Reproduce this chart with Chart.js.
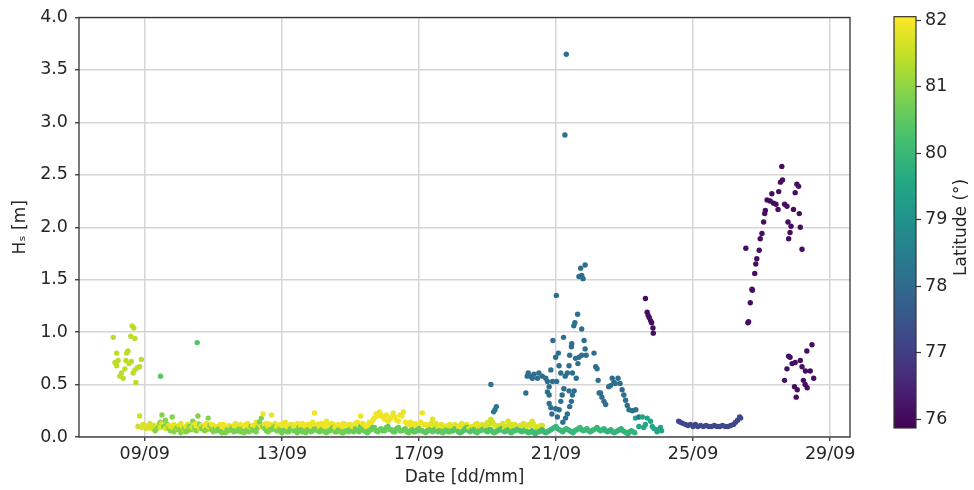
<!DOCTYPE html>
<html>
<head>
<meta charset="utf-8">
<title>Hs vs date, coloured by latitude</title>
<script src="https://cdn.jsdelivr.net/npm/chart.js@4/dist/chart.umd.min.js"></script>
<style>
  html, body { margin: 0; padding: 0; background: #ffffff; }
  #wrap { position: relative; width: 974px; height: 490px; }
  #wrap canvas { position: absolute; left: 0; top: 0; }
</style>
</head>
<body>
<div id="wrap">
  <canvas id="main" width="974" height="490"></canvas>
  <canvas id="cbar" width="974" height="490"></canvas>
</div>
<script>
// Each record: [day of September (fractional), Hs in metres, latitude in degrees N]

// 8 Sep burst of higher waves
const earlyBurst = [
  [8.08,0.95,81.4],[8.13,0.71,81.4],[8.18,0.80,81.4],[8.18,0.68,81.4],[8.22,0.73,81.4],
  [8.27,0.58,81.4],[8.32,0.61,81.4],[8.37,0.56,81.4],[8.42,0.65,81.4],[8.45,0.73,81.4],
  [8.47,0.80,81.4],[8.51,0.82,81.4],[8.54,0.70,81.4],[8.59,0.96,81.4],[8.61,0.72,81.4],
  [8.63,1.06,81.4],[8.66,0.61,81.4],[8.68,1.04,81.4],[8.71,0.94,81.4],[8.71,0.64,81.4],
  [8.74,0.52,81.4],[8.78,0.66,81.4],[8.85,0.67,81.4],[8.90,0.74,81.4]
];

// two isolated readings
const isolated = [
  [9.46,0.58,80.4],[10.53,0.90,80.4]
];

// northern track (calm, ~82 N)
const northTrack = [
  [8.80,0.10,81.6],[8.85,0.20,81.6],[8.90,0.09,81.7],[8.95,0.12,81.7],[9.00,0.11,81.7],
  [9.05,0.08,81.7],[9.10,0.10,81.7],[9.15,0.13,81.7],[9.20,0.08,81.7],[9.25,0.11,81.7],
  [9.30,0.07,81.8],[9.35,0.10,81.8],[9.40,0.12,81.8],[9.45,0.09,81.8],[9.50,0.13,81.8],
  [9.55,0.10,81.8],[9.60,0.08,81.8],[9.65,0.12,81.8],[9.70,0.11,81.8],[9.75,0.09,81.8],
  [9.80,0.09,81.8],[9.85,0.12,81.8],[9.90,0.10,81.8],[9.95,0.08,81.8],[10.00,0.11,81.8],
  [10.05,0.13,81.8],[10.10,0.09,81.8],[10.15,0.07,81.8],[10.20,0.10,81.8],[10.25,0.12,81.8],
  [10.30,0.11,81.9],[10.35,0.08,81.9],[10.40,0.09,81.9],[10.45,0.12,81.9],[10.50,0.10,81.9],
  [10.55,0.13,81.9],[10.60,0.08,81.9],[10.65,0.11,81.9],[10.70,0.10,81.9],[10.75,0.09,81.9],
  [10.80,0.13,81.9],[10.85,0.10,81.9],[10.90,0.09,81.9],[10.95,0.12,81.9],[11.00,0.11,81.9],
  [11.05,0.08,81.9],[11.10,0.10,81.9],[11.15,0.09,81.9],[11.20,0.12,81.9],[11.25,0.10,81.9],
  [11.30,0.12,81.9],[11.35,0.08,81.9],[11.40,0.09,81.9],[11.45,0.11,81.9],[11.50,0.07,81.9],
  [11.55,0.10,81.9],[11.60,0.11,81.9],[11.65,0.13,81.9],[11.70,0.09,81.9],[11.75,0.10,81.9],
  [11.80,0.12,81.9],[11.85,0.09,81.9],[11.90,0.10,81.9],[11.95,0.12,81.9],[12.00,0.13,81.9],
  [12.05,0.10,81.9],[12.10,0.09,81.9],[12.15,0.11,81.9],[12.20,0.11,81.9],[12.25,0.14,81.9],
  [12.30,0.14,81.9],[12.35,0.12,81.9],[12.40,0.10,81.9],[12.45,0.22,81.9],[12.50,0.12,81.9],
  [12.55,0.13,81.9],[12.60,0.10,81.9],[12.65,0.12,81.9],[12.70,0.21,81.9],[12.75,0.11,81.9],
  [12.80,0.13,81.9],[12.85,0.10,81.9],[12.90,0.09,81.9],[12.95,0.12,81.9],[13.00,0.11,81.9],
  [13.05,0.13,81.9],[13.10,0.14,81.9],[13.15,0.10,81.9],[13.20,0.10,81.9],[13.25,0.12,81.9],
  [13.30,0.12,81.9],[13.35,0.09,81.9],[13.40,0.09,81.9],[13.45,0.13,81.9],[13.50,0.11,81.9],
  [13.55,0.10,81.9],[13.60,0.13,81.9],[13.65,0.11,81.9],[13.70,0.10,81.9],[13.75,0.12,81.9],
  [13.80,0.12,81.9],[13.85,0.10,81.9],[13.90,0.14,81.9],[13.95,0.23,81.9],[14.00,0.11,81.9],
  [14.05,0.12,81.9],[14.10,0.09,81.9],[14.15,0.13,81.9],[14.20,0.12,81.9],[14.25,0.10,81.9],
  [14.30,0.15,81.9],[14.35,0.12,81.9],[14.40,0.10,81.9],[14.45,0.13,81.9],[14.50,0.12,81.9],
  [14.55,0.09,81.9],[14.60,0.08,81.9],[14.65,0.12,81.9],[14.70,0.11,81.9],[14.75,0.10,81.9],
  [14.80,0.13,81.9],[14.85,0.11,81.9],[14.90,0.10,81.9],[14.95,0.12,81.9],[15.00,0.12,81.9],
  [15.05,0.09,81.9],[15.10,0.09,81.9],[15.15,0.13,81.9],[15.20,0.14,81.9],[15.25,0.11,81.9],
  [15.30,0.20,81.9],[15.35,0.13,81.9],[15.40,0.12,81.9],[15.45,0.10,81.9],[15.50,0.10,81.9],
  [15.55,0.14,81.9],[15.60,0.13,81.9],[15.65,0.16,81.9],[15.70,0.18,81.9],[15.75,0.22,81.9],
  [15.80,0.20,81.9],[15.85,0.24,81.9],[15.90,0.21,81.9],[15.95,0.19,81.9],[16.00,0.17,81.9],
  [16.05,0.21,81.9],[16.10,0.15,81.9],[16.15,0.17,81.9],[16.20,0.19,81.9],[16.25,0.23,81.9],
  [16.30,0.19,81.9],[16.35,0.16,81.9],[16.40,0.15,81.9],[16.45,0.21,81.9],[16.50,0.20,81.9],
  [16.55,0.24,81.9],[16.60,0.14,81.9],[16.65,0.13,81.9],[16.70,0.12,81.9],[16.75,0.14,81.9],
  [16.80,0.10,81.9],[16.85,0.12,81.9],[16.90,0.13,81.9],[16.95,0.11,81.9],[17.00,0.11,81.9],
  [17.05,0.14,81.9],[17.10,0.23,81.9],[17.15,0.12,81.9],[17.20,0.12,81.9],[17.25,0.10,81.9],
  [17.30,0.10,81.8],[17.35,0.13,81.8],[17.40,0.17,81.8],[17.45,0.11,81.8],[17.50,0.13,81.8],
  [17.55,0.10,81.8],[17.60,0.09,81.8],[17.65,0.12,81.8],[17.70,0.11,81.8],[17.75,0.09,81.8],
  [17.80,0.08,81.8],[17.85,0.11,81.8],[17.90,0.12,81.8],[17.95,0.09,81.8],[18.00,0.10,81.8],
  [18.05,0.12,81.8],[18.10,0.08,81.8],[18.15,0.10,81.8],[18.20,0.11,81.8],[18.25,0.13,81.8],
  [18.30,0.09,81.8],[18.35,0.11,81.8],[18.40,0.12,81.8],[18.45,0.08,81.8],[18.50,0.08,81.8],
  [18.55,0.10,81.8],[18.60,0.10,81.8],[18.65,0.12,81.8],[18.70,0.13,81.8],[18.75,0.09,81.8],
  [18.80,0.09,81.7],[18.85,0.12,81.7],[18.90,0.11,81.7],[18.95,0.10,81.7],[19.00,0.14,81.7],
  [19.05,0.12,81.6],[19.10,0.17,81.6],[19.15,0.14,81.6],[19.20,0.12,81.7],[19.25,0.10,81.7],
  [19.30,0.09,81.7],[19.35,0.11,81.7],[19.40,0.11,81.7],[19.45,0.13,81.7],[19.50,0.08,81.7],
  [19.55,0.10,81.7],[19.60,0.15,81.7],[19.65,0.12,81.7],[19.70,0.10,81.7],[19.75,0.12,81.7],
  [19.80,0.12,81.7],[19.85,0.09,81.7],[19.90,0.08,81.7],[19.95,0.11,81.7],[20.00,0.11,81.7],
  [20.05,0.13,81.7],[20.10,0.09,81.7],[20.15,0.10,81.7],[20.20,0.12,81.7],[20.25,0.11,81.7],
  [20.30,0.15,81.7],[20.35,0.12,81.7],[20.40,0.10,81.7],[20.45,0.09,81.7],[20.50,0.08,81.7],
  [20.55,0.11,81.7],[20.60,0.11,81.7]
];

// southern track (calm, ~80 N)
const southTrack = [
  [9.30,0.06,80.9],[9.35,0.08,80.9],[9.40,0.09,80.9],[9.45,0.14,80.9],[9.50,0.21,80.9],
  [9.55,0.10,80.9],[9.60,0.16,80.9],[9.65,0.12,80.9],[9.70,0.08,80.9],[9.75,0.06,80.9],
  [9.80,0.19,80.9],[9.85,0.05,80.9],[9.90,0.07,80.9],[9.95,0.09,80.9],[10.00,0.07,80.9],
  [10.05,0.04,80.9],[10.10,0.06,80.9],[10.15,0.08,80.9],[10.20,0.05,80.9],[10.25,0.06,80.9],
  [10.30,0.10,80.9],[10.35,0.07,80.9],[10.40,0.15,80.9],[10.45,0.09,80.9],[10.50,0.06,80.9],
  [10.55,0.20,80.9],[10.60,0.12,80.9],[10.65,0.08,80.9],[10.70,0.09,80.9],[10.75,0.06,80.9],
  [10.80,0.07,80.9],[10.85,0.18,80.9],[10.90,0.11,80.9],[10.95,0.07,80.9],[11.00,0.05,80.9],
  [11.05,0.08,80.8],[11.10,0.06,80.8],[11.15,0.08,80.8],[11.20,0.06,80.8],[11.25,0.04,80.8],
  [11.30,0.05,80.8],[11.35,0.04,80.8],[11.40,0.07,80.8],[11.45,0.06,80.8],[11.50,0.07,80.8],
  [11.55,0.09,80.8],[11.60,0.05,80.8],[11.65,0.06,80.8],[11.70,0.06,80.8],[11.75,0.08,80.8],
  [11.80,0.05,80.8],[11.85,0.08,80.8],[11.90,0.04,80.8],[11.95,0.06,80.8],[12.00,0.07,80.8],
  [12.05,0.05,80.8],[12.10,0.10,80.8],[12.15,0.07,80.8],[12.20,0.06,80.8],[12.25,0.05,80.8],
  [12.30,0.09,80.8],[12.35,0.14,80.8],[12.40,0.18,80.8],[12.45,0.10,80.8],[12.50,0.08,80.8],
  [12.55,0.06,80.8],[12.60,0.05,80.8],[12.65,0.07,80.8],[12.70,0.07,80.8],[12.75,0.09,80.8],
  [12.80,0.10,80.8],[12.85,0.06,80.8],[12.90,0.06,80.8],[12.95,0.08,80.8],[13.00,0.04,80.7],
  [13.05,0.06,80.7],[13.10,0.07,80.7],[13.15,0.05,80.7],[13.20,0.05,80.7],[13.25,0.08,80.7],
  [13.30,0.08,80.7],[13.35,0.06,80.7],[13.40,0.06,80.7],[13.45,0.04,80.7],[13.50,0.09,80.7],
  [13.55,0.07,80.7],[13.60,0.05,80.7],[13.65,0.06,80.7],[13.70,0.04,80.7],[13.75,0.07,80.7],
  [13.80,0.07,80.7],[13.85,0.05,80.7],[13.90,0.06,80.7],[13.95,0.08,80.7],[14.00,0.08,80.7],
  [14.05,0.06,80.7],[14.10,0.05,80.7],[14.15,0.07,80.7],[14.20,0.07,80.7],[14.25,0.05,80.7],
  [14.30,0.04,80.7],[14.35,0.06,80.7],[14.40,0.06,80.7],[14.45,0.08,80.7],[14.50,0.09,80.7],
  [14.55,0.05,80.7],[14.60,0.05,80.7],[14.65,0.07,80.7],[14.70,0.07,80.7],[14.75,0.04,80.7],
  [14.80,0.04,80.7],[14.85,0.06,80.7],[14.90,0.06,80.7],[14.95,0.05,80.7],[15.00,0.08,80.6],
  [15.05,0.06,80.6],[15.10,0.05,80.6],[15.15,0.08,80.6],[15.20,0.07,80.6],[15.25,0.05,80.6],
  [15.30,0.10,80.6],[15.35,0.07,80.6],[15.40,0.06,80.6],[15.45,0.05,80.6],[15.50,0.04,80.6],
  [15.55,0.06,80.6],[15.60,0.07,80.6],[15.65,0.09,80.6],[15.70,0.09,80.6],[15.75,0.06,80.6],
  [15.80,0.05,80.6],[15.85,0.07,80.6],[15.90,0.08,80.6],[15.95,0.06,80.6],[16.00,0.06,80.6],
  [16.05,0.09,80.6],[16.10,0.10,80.6],[16.15,0.07,80.6],[16.20,0.07,80.6],[16.25,0.05,80.6],
  [16.30,0.05,80.6],[16.35,0.08,80.6],[16.40,0.09,80.6],[16.45,0.06,80.6],[16.50,0.06,80.6],
  [16.55,0.07,80.6],[16.60,0.08,80.6],[16.65,0.05,80.6],[16.70,0.04,80.6],[16.75,0.06,80.6],
  [16.80,0.07,80.5],[16.85,0.05,80.5],[16.90,0.05,80.5],[16.95,0.07,80.5],[17.00,0.08,80.5],
  [17.05,0.06,80.5],[17.10,0.06,80.5],[17.15,0.05,80.5],[17.20,0.04,80.5],[17.25,0.06,80.5],
  [17.30,0.07,80.5],[17.35,0.06,80.5],[17.40,0.05,80.5],[17.45,0.07,80.5],[17.50,0.08,80.5],
  [17.55,0.05,80.5],[17.60,0.06,80.5],[17.65,0.05,80.5],[17.70,0.04,80.5],[17.75,0.06,80.5],
  [17.80,0.07,80.5],[17.85,0.05,80.5],[17.90,0.05,80.5],[17.95,0.06,80.5],[18.00,0.06,80.4],
  [18.05,0.08,80.4],[18.10,0.08,80.4],[18.15,0.05,80.4],[18.20,0.04,80.4],[18.25,0.05,80.4],
  [18.30,0.06,80.4],[18.35,0.08,80.4],[18.40,0.09,80.4],[18.45,0.06,80.4],[18.50,0.05,80.4],
  [18.55,0.07,80.4],[18.60,0.07,80.4],[18.65,0.05,80.4],[18.70,0.04,80.4],[18.75,0.06,80.4],
  [18.80,0.06,80.4],[18.85,0.07,80.4],[18.90,0.08,80.4],[18.95,0.06,80.4],[19.00,0.05,80.3],
  [19.05,0.07,80.3],[19.10,0.07,80.3],[19.15,0.05,80.3],[19.20,0.04,80.3],[19.25,0.05,80.3],
  [19.30,0.06,80.3],[19.35,0.07,80.3],[19.40,0.08,80.3],[19.45,0.06,80.3],[19.50,0.05,80.3],
  [19.55,0.06,80.3],[19.60,0.07,80.3],[19.65,0.05,80.3],[19.70,0.04,80.3],[19.75,0.06,80.3],
  [19.80,0.06,80.2],[19.85,0.07,80.2],[19.90,0.08,80.2],[19.95,0.06,80.2],[20.00,0.05,80.2],
  [20.05,0.06,80.2],[20.10,0.07,80.2],[20.15,0.05,80.2],[20.20,0.04,80.2],[20.25,0.05,80.2],
  [20.30,0.06,80.1],[20.35,0.04,80.1],[20.40,0.03,80.1],[20.45,0.05,80.1],[20.50,0.05,80.1],
  [20.55,0.06,80.1],[20.60,0.07,80.1],[20.65,0.05,80.0],[20.70,0.04,80.0],[20.75,0.05,80.0],
  [20.80,0.06,80.0],[20.85,0.07,80.0],[20.90,0.08,80.0],[20.95,0.09,80.0],[21.00,0.10,80.0],
  [21.05,0.08,80.0],[21.10,0.07,80.0],[21.15,0.06,80.0],[21.20,0.05,80.0],[21.25,0.07,80.0],
  [21.30,0.08,80.0],[21.35,0.07,80.0],[21.40,0.06,80.0],[21.45,0.05,80.0],[21.50,0.04,80.0],
  [21.55,0.06,80.0],[21.60,0.07,80.0],[21.65,0.08,80.0],[21.70,0.09,80.0],[21.75,0.07,80.0],
  [21.80,0.06,80.0],[21.85,0.07,80.0],[21.90,0.08,80.0],[21.95,0.06,80.0],[22.00,0.05,80.0],
  [22.05,0.06,80.0],[22.10,0.07,80.0],[22.15,0.08,80.0],[22.20,0.09,80.0],[22.25,0.07,80.0],
  [22.30,0.06,79.9],[22.35,0.07,79.9],[22.40,0.08,79.9],[22.45,0.06,79.9],[22.50,0.05,79.9],
  [22.55,0.06,79.9],[22.60,0.07,79.9],[22.65,0.05,79.9],[22.70,0.04,79.9],[22.75,0.05,79.9],
  [22.80,0.06,79.9],[22.85,0.07,79.9],[22.90,0.08,79.9],[22.95,0.06,79.9],[23.00,0.05,79.9],
  [23.05,0.04,79.9],[23.10,0.03,79.9],[23.15,0.05,79.9],[23.20,0.06,79.9],[23.25,0.05,79.9],
  [23.30,0.04,79.9]
];

// storm around 21 Sep (~78 N)
const stormCluster = [
  [19.10,0.50,78.2],[19.18,0.24,78.3],[19.22,0.26,78.3],[19.26,0.29,78.3],
  [20.12,0.42,78.1],[20.16,0.58,78.1],[20.19,0.61,78.1],[20.26,0.58,78.1],[20.31,0.56,78.1],
  [20.36,0.60,78.1],[20.46,0.56,78.1],[20.50,0.61,78.1],[20.60,0.58,78.1],[20.70,0.56,78.1],
  [20.75,0.53,78.1],[20.75,0.43,78.1],[20.80,0.48,78.1],[20.80,0.40,78.1],[20.80,0.32,78.1],
  [20.85,0.28,78.1],[20.85,0.64,78.1],[20.88,0.22,78.1],[20.90,0.53,78.1],[20.91,0.92,78.1],
  [20.99,0.76,78.1],[20.99,0.27,78.1],[21.01,1.35,78.1],[21.02,0.53,78.1],[21.04,0.19,78.1],
  [21.07,0.80,78.1],[21.09,0.68,78.1],[21.09,0.26,78.1],[21.14,0.61,78.1],[21.14,0.34,78.1],
  [21.18,0.40,78.1],[21.20,0.14,78.1],[21.22,0.95,78.1],[21.23,0.46,78.1],[21.26,2.88,78.1],
  [21.27,0.58,78.1],[21.28,0.18,78.1],[21.30,3.65,78.1],[21.33,0.61,78.1],[21.33,0.22,78.1],
  [21.38,0.68,78.1],[21.38,0.44,78.1],[21.40,0.78,78.1],[21.40,0.29,78.1],[21.45,0.86,78.1],
  [21.45,0.34,78.1],[21.46,0.89,78.1],[21.48,0.61,78.1],[21.48,0.40,78.1],[21.52,1.06,78.1],
  [21.53,0.44,78.1],[21.55,1.09,78.1],[21.57,0.75,78.1],[21.59,0.56,78.1],[21.63,1.17,78.1],
  [21.64,0.70,78.1],[21.67,1.53,78.1],[21.67,0.76,78.1],[21.72,1.61,78.1],[21.75,1.54,78.1],
  [21.75,1.03,78.1],[21.75,0.78,78.1],[21.79,1.51,78.1],[21.82,0.92,78.1],[21.85,1.64,78.1],
  [21.85,0.84,78.1],[21.88,0.78,78.1],[22.11,0.80,78.1],[22.16,0.67,78.1],[22.20,0.65,78.1],
  [22.23,0.54,78.1],[22.26,0.42,78.1],[22.30,0.42,78.1],[22.34,0.38,78.1],[22.40,0.34,78.1],
  [22.45,0.31,78.1],[22.54,0.48,78.1],[22.59,0.49,78.1],[22.64,0.56,78.1],[22.69,0.52,78.1],
  [22.73,0.51,78.1],[22.81,0.56,78.1],[22.87,0.51,78.1],[22.93,0.45,78.1],[22.98,0.40,78.1],
  [23.03,0.35,78.1],[23.08,0.30,78.1],[23.13,0.26,78.1],[23.23,0.25,78.1],[23.33,0.26,78.1],
  [23.42,0.19,78.1]
];

// short rise at the end of the southern track (~79.5 N)
const tealTail = [
  [23.32,0.18,79.5],[23.42,0.10,79.5],[23.52,0.19,79.5],[23.56,0.09,79.5],[23.61,0.12,79.5],
  [23.66,0.18,79.5],[23.76,0.15,79.5],[23.81,0.10,79.5],[23.86,0.08,79.5],[23.95,0.05,79.5],
  [23.95,0.07,79.5],[24.05,0.09,79.5],[24.08,0.06,79.5]
];

// brief high readings at the southern edge (~76 N)
const southEdge = [
  [23.61,1.32,76.1],[23.66,1.19,76.1],[23.69,1.16,76.1],[23.72,1.14,76.1],
  [23.76,1.11,76.1],[23.79,1.09,76.1],[23.83,1.04,76.1],[23.84,0.99,76.1]
];

// calm run at ~77 N
const calmRun = [
  [24.58,0.15,77.2],[24.63,0.14,77.2],[24.70,0.13,77.2],[24.78,0.12,77.2],[24.85,0.11,77.2],
  [24.92,0.12,77.2],[25.00,0.10,77.2],[25.07,0.12,77.2],[25.14,0.10,77.2],[25.22,0.11,77.2],
  [25.30,0.10,77.2],[25.38,0.11,77.2],[25.46,0.10,77.2],[25.54,0.10,77.2],[25.62,0.11,77.2],
  [25.70,0.10,77.2],[25.78,0.10,77.2],[25.86,0.11,77.2],[25.94,0.10,77.2],[26.02,0.10,77.2],
  [26.10,0.11,77.2],[26.18,0.12,77.2],[26.24,0.14,77.2],[26.30,0.16,77.2],[26.36,0.19,77.2],
  [26.39,0.18,77.2]
];

// late-September storm (~76 N)
const lateStorm = [
  [26.54,1.80,76.1],[26.60,1.09,76.1],[26.62,1.10,76.1],[26.67,1.28,76.1],[26.72,1.41,76.1],
  [26.73,1.40,76.1],[26.80,1.56,76.1],[26.83,1.65,76.1],[26.86,1.70,76.1],[26.93,1.78,76.1],
  [26.96,1.89,76.1],[27.01,1.94,76.1],[27.06,2.05,76.1],[27.09,2.13,76.1],[27.11,2.16,76.1],
  [27.16,2.26,76.1],[27.25,2.25,76.1],[27.30,2.32,76.1],[27.35,2.23,76.1],[27.42,2.22,76.1],
  [27.48,2.17,76.1],[27.50,2.34,76.1],[27.55,2.43,76.1],[27.59,2.58,76.1],[27.61,2.45,76.1],
  [27.67,2.22,76.1],[27.74,2.20,76.1],[27.77,2.05,76.1],[27.79,1.89,76.1],[27.83,1.95,76.1],
  [27.86,2.01,76.1],[27.93,2.17,76.1],[27.98,2.33,76.1],[28.03,2.41,76.1],[28.08,2.39,76.1],
  [28.10,2.13,76.1],[28.13,2.00,76.1],[28.18,1.79,76.1],
  [27.67,0.54,76.1],[27.74,0.65,76.1],[27.79,0.77,76.1],[27.83,0.76,76.1],[27.89,0.70,76.1],
  [27.96,0.48,76.1],[27.98,0.71,76.1],[28.01,0.38,76.1],[28.04,0.45,76.1],[28.13,0.73,76.1],
  [28.18,0.67,76.1],[28.22,0.54,76.1],[28.27,0.50,76.1],[28.28,0.63,76.1],[28.32,0.82,76.1],
  [28.33,0.47,76.1],[28.42,0.63,76.1],[28.47,0.88,76.1],[28.52,0.56,76.1]
];

// axis ticks
const dateTicks = [9, 13, 17, 21, 25, 29];
const dateTickLabels = ['09/09', '13/09', '17/09', '21/09', '25/09', '29/09'];
const hsTicks = [0, 0.5, 1, 1.5, 2, 2.5, 3, 3.5, 4];
const latTicks = [76, 77, 78, 79, 80, 81, 82];

// axis limits and colour normalisation
const dayMin = 7.08, dayMax = 29.58;
const latMin = 75.87, latMax = 82.05;

// viridis colour map
const VIRIDIS = ['#440154','#482475','#414487','#355f8d','#2a788e','#21918c',
                 '#22a884','#44bf70','#7ad151','#bddf26','#fde725'];
function hexRgb(h) {
  return [parseInt(h.slice(1,3),16), parseInt(h.slice(3,5),16), parseInt(h.slice(5,7),16)];
}
const VIR_RGB = VIRIDIS.map(hexRgb);
function viridis(t) {
  t = Math.min(1, Math.max(0, t));
  const p = t * (VIR_RGB.length - 1);
  const i = Math.min(VIR_RGB.length - 2, Math.floor(p));
  const f = p - i;
  const a = VIR_RGB[i], b = VIR_RGB[i + 1];
  const c = a.map((v, k) => Math.round(v + (b[k] - v) * f));
  return 'rgb(' + c.join(',') + ')';
}
const latColor = lat => viridis((lat - latMin) / (latMax - latMin));

// all readings in time order
const records = [].concat(earlyBurst, isolated, northTrack, southTrack, stormCluster,
                          tealTail, southEdge, calmRun, lateStorm)
  .sort((a, b) => a[0] - b[0]);
const points = records.map(r => ({ x: r[0], y: r[1], lat: r[2] }));

Chart.defaults.font.family = "'DejaVu Sans', 'Liberation Sans', sans-serif";
Chart.defaults.color = '#262626';

const TEXT = '#262626';
const SPINE = '#333333';
const GRID = '#d5d5d5';

const framePlugin = {
  id: 'frame',
  afterDatasetsDraw(chart) {
    const { ctx, chartArea: a } = chart;
    ctx.save();
    ctx.strokeStyle = SPINE;
    ctx.lineWidth = 1.3;
    ctx.strokeRect(a.left, a.top, a.right - a.left, a.bottom - a.top);
    ctx.restore();
  }
};

new Chart(document.getElementById('main'), {
  type: 'scatter',
  data: {
    datasets: [{
      data: points,
      pointRadius: 2.7,
      pointBorderWidth: 0,
      pointBackgroundColor: ctx => latColor(ctx.raw ? ctx.raw.lat : latMin)
    }]
  },
  options: {
    responsive: false,
    animation: false,
    events: [],
    layout: { padding: { left: 0, top: 16, right: 124, bottom: 0 } },
    plugins: { legend: { display: false }, tooltip: { enabled: false } },
    scales: {
      x: {
        type: 'linear',
        min: dayMin, max: dayMax,
        afterBuildTicks: s => { s.ticks = dateTicks.map(v => ({ value: v })); },
        afterFit: s => { s.height = 53; },
        ticks: {
          callback: v => dateTickLabels[dateTicks.indexOf(v)],
          padding: 3,
          font: { size: 17.5 },
          color: TEXT,
          maxRotation: 0
        },
        grid: { color: GRID, lineWidth: 1.5, tickColor: SPINE, tickWidth: 1.3, tickLength: 4 },
        border: { display: false },
        title: { display: true, text: 'Date [dd/mm]', font: { size: 17 }, color: TEXT, padding: { top: 0, bottom: 2 } }
      },
      y: {
        min: 0, max: 4,
        afterBuildTicks: s => { s.ticks = hsTicks.map(v => ({ value: v })); },
        afterFit: s => { s.width = 79; },
        ticks: {
          callback: v => v.toFixed(1),
          padding: 7,
          font: { size: 17.5 },
          color: TEXT
        },
        grid: { color: GRID, lineWidth: 1.5, tickColor: SPINE, tickWidth: 1.3, tickLength: 4 },
        border: { display: false },
        title: { display: true, text: 'Hₛ [m]', font: { size: 17 }, color: TEXT, padding: { top: 10, bottom: 0 } }
      }
    }
  },
  plugins: [framePlugin]
});

// colour bar: gradient strip sampled through the latitude scale
const colorbarPlugin = {
  id: 'colorbar',
  beforeDatasetsDraw(chart) {
    const { ctx, chartArea: a, scales } = chart;
    const ys = scales.y;
    ctx.save();
    for (let py = Math.floor(a.top); py < Math.ceil(a.bottom); py++) {
      ctx.fillStyle = latColor(ys.getValueForPixel(py + 0.5));
      ctx.fillRect(a.left, py, a.right - a.left, 1);
    }
    ctx.strokeStyle = SPINE;
    ctx.lineWidth = 1.2;
    ctx.strokeRect(a.left, a.top, a.right - a.left, a.bottom - a.top);
    ctx.restore();
  },
  afterDraw(chart) {
    const { ctx, chartArea: a } = chart;
    ctx.save();
    ctx.translate(962, (a.top + a.bottom) / 2 + 5);
    ctx.rotate(-Math.PI / 2);
    ctx.fillStyle = TEXT;
    ctx.font = "17px 'DejaVu Sans', 'Liberation Sans', sans-serif";
    ctx.textAlign = 'center';
    ctx.textBaseline = 'middle';
    ctx.fillText('Latitude (°)', 0, 0);
    ctx.restore();
  }
};

new Chart(document.getElementById('cbar'), {
  type: 'scatter',
  data: { datasets: [{ data: [] }] },
  options: {
    responsive: false,
    animation: false,
    events: [],
    layout: { padding: { left: 894, top: 16.7, right: 0, bottom: 62 } },
    plugins: { legend: { display: false }, tooltip: { enabled: false } },
    scales: {
      x: { display: false, min: 0, max: 1 },
      y: {
        position: 'right',
        min: latMin, max: latMax,
        afterBuildTicks: s => { s.ticks = latTicks.map(v => ({ value: v })); },
        afterFit: s => { s.width = 58; },
        ticks: { callback: v => String(v), padding: 4, font: { size: 17.5 }, color: TEXT },
        grid: { display: true, drawOnChartArea: false, drawTicks: true, tickLength: 5, tickColor: SPINE, tickWidth: 1.2 },
        border: { display: false }
      }
    }
  },
  plugins: [colorbarPlugin]
});
</script>
</body>
</html>
